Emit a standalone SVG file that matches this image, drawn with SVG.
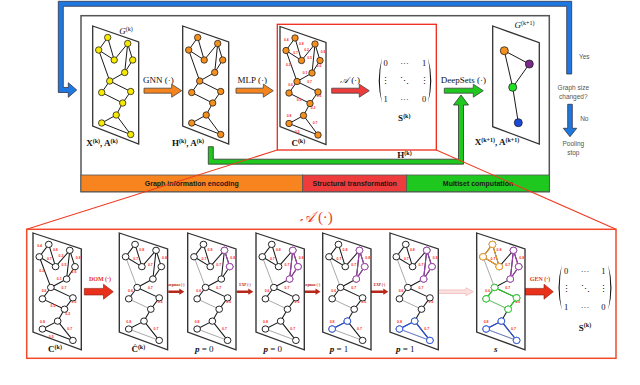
<svg xmlns="http://www.w3.org/2000/svg" xmlns:xlink="http://www.w3.org/1999/xlink" width="640" height="385" viewBox="0 0 640 385">
<style>
.par{fill:#fff;stroke:#333;stroke-width:1.3}
.ed{fill:none;stroke:#1a1a1a;stroke-width:1}
.thin{fill:none;stroke:#555;stroke-width:0.5}
.el{font-family:"Liberation Sans",sans-serif;font-size:3.4px;font-weight:bold;fill:#ff2a2a;text-anchor:middle}
.ml{font-family:"Liberation Serif",serif;font-weight:bold;font-size:9px;fill:#111;text-anchor:middle}
.it{font-family:"Liberation Serif",serif;font-style:italic;font-size:9px;fill:#111;text-anchor:middle}
.sup{font-size:6px}
.fn{font-family:"Liberation Serif",serif;font-size:9px;fill:#111;text-anchor:middle}
.gr{font-family:"Liberation Sans",sans-serif;font-size:6.5px;fill:#555;text-anchor:middle}
.bar{font-family:"Liberation Sans",sans-serif;font-size:7px;font-weight:bold;fill:#1a1a1a;text-anchor:middle}
.mx{font-family:"Liberation Serif",serif;font-size:8.5px;fill:#111;text-anchor:middle}
.rl{font-family:"Liberation Serif",serif;font-weight:bold;font-size:6px;fill:#e8301a;text-anchor:middle}
.sl{font-family:"Liberation Serif",serif;font-weight:bold;font-size:3.6px;fill:#b8201a;text-anchor:middle}
.ar{stroke:#444;stroke-width:0.8}
.ov path{fill:none;stroke-width:1}
.ov circle{fill:#fff;stroke-width:0.9}
</style>
<defs>
<polygon id="par" points="0,0 46,16 46,118 0,100"/>
<path id="eAll" d="M15 11.5L6 24M15 11.5L21.5 34M6 24L21.5 34M35 17.5L21.5 34M35 17.5L32 46.5M35 17.5L40 34M40 34L32 46.5M6 24L17 55M32 46.5L17 55M17 55L9 66.5M17 55L38 65.5M9 66.5L30 77M38 65.5L30 77M30 77L23.5 89M23.5 89L9 97M23.5 89L38 108.5M9 97L38 108.5"/>
<path id="eThick" d="M15 11.5L6 24M15 11.5L21.5 34M6 24L21.5 34M35 17.5L21.5 34M35 17.5L32 46.5M35 17.5L40 34M40 34L32 46.5M32 46.5L17 55M17 55L9 66.5M17 55L38 65.5M38 65.5L30 77M30 77L23.5 89M23.5 89L9 97M23.5 89L38 108.5"/>
<path id="eThin" d="M6 24L17 55M9 66.5L30 77M9 97L38 108.5"/>
<g id="nodes">
<circle cx="15" cy="11.5" r="3.2"/><circle cx="6" cy="24" r="3.2"/><circle cx="35" cy="17.5" r="3.2"/>
<circle cx="21.5" cy="34" r="3.2"/><circle cx="40" cy="34" r="3.2"/><circle cx="32" cy="46.5" r="3.2"/>
<circle cx="17" cy="55" r="3.2"/><circle cx="9" cy="66.5" r="3.2"/><circle cx="38" cy="65.5" r="3.2"/>
<circle cx="30" cy="77" r="3.2"/><circle cx="23.5" cy="89" r="3.2"/><circle cx="9" cy="97" r="3.2"/>
<circle cx="38" cy="108.5" r="3.2"/>
</g>
<g id="lAll" class="el">
<text x="6.3" y="14.6">0.4</text><text x="21.3" y="18.6">0.8</text><text x="15.6" y="27.2">0.7</text>
<text x="26.6" y="24.6">0.2</text><text x="43" y="26.2">0.8</text><text x="29.6" y="32.9">0.5</text>
<text x="39" y="40.6">0.6</text><text x="8.3" y="39.6">0.2</text><text x="25" y="47.2">0.1</text>
<text x="29.6" y="56.2">0.7</text><text x="10.6" y="59.6">0.6</text><text x="19" y="74.6">0.5</text>
<text x="39" y="70.6">0.6</text><text x="33" y="82.9">0.2</text><text x="9" y="90.6">0.8</text>
<text x="35" y="97.9">0.7</text><text x="17.3" y="106.2">0.5</text>
</g>
<g id="lSub" class="el">
<text x="21.3" y="18.6">0.8</text><text x="15.6" y="27.2">0.7</text><text x="29.6" y="32.9">0.7</text>
<text x="43" y="26.2">0.8</text><text x="29.6" y="56.2">0.7</text><text x="10.6" y="59.6">0.6</text>
<text x="39" y="70.6">0.6</text><text x="9" y="90.6">0.8</text><text x="35" y="97.9">0.7</text>
</g>
<g id="pur2" class="ov"><path d="M35 17.5L40 34"/><circle cx="35" cy="17.5" r="3.2"/><circle cx="40" cy="34" r="3.2"/></g>
<g id="pur3" class="ov"><path d="M35 17.5L40 34L32 46.5Z"/><circle cx="35" cy="17.5" r="3.2"/><circle cx="40" cy="34" r="3.2"/><circle cx="32" cy="46.5" r="3.2"/></g>
<g id="blu2" class="ov"><path d="M23.5 89L9 97"/><circle cx="23.5" cy="89" r="3.2"/><circle cx="9" cy="97" r="3.2"/></g>
<g id="blu3" class="ov"><path d="M38 108.5L23.5 89L9 97"/><path d="M9 97L38 108.5" style="stroke-width:0.5"/><circle cx="23.5" cy="89" r="3.2"/><circle cx="9" cy="97" r="3.2"/><circle cx="38" cy="108.5" r="3.2"/></g>
<g id="ora3" class="ov"><path d="M15 11.5L6 24L21.5 34Z"/><circle cx="15" cy="11.5" r="3.2"/><circle cx="6" cy="24" r="3.2"/><circle cx="21.5" cy="34" r="3.2"/></g>
<g id="grn4" class="ov"><path d="M9 66.5L17 55L38 65.5L30 77"/><path d="M9 66.5L30 77" style="stroke-width:0.5"/><circle cx="17" cy="55" r="3.2"/><circle cx="9" cy="66.5" r="3.2"/><circle cx="38" cy="65.5" r="3.2"/><circle cx="30" cy="77" r="3.2"/></g>
</defs>

<!-- outer frame and bar -->
<g id="frame">
<rect x="81" y="15.7" width="468.3" height="176" fill="#fff" stroke="#555" stroke-width="1.5"/>
<rect x="81" y="175" width="221.7" height="16.7" fill="#f7841e" stroke="#555" stroke-width="0.8"/>
<rect x="302.7" y="175" width="104" height="16.7" fill="#ee3b3b" stroke="#555" stroke-width="0.8"/>
<rect x="406.7" y="175" width="142.6" height="16.7" fill="#1ec81e" stroke="#555" stroke-width="0.8"/>
<text class="bar" x="191.8" y="185.8">Graph information encoding</text>
<text class="bar" x="354.7" y="185.8">Structural transformation</text>
<text class="bar" x="478" y="185.8">Multiset computation</text>
</g>

<g id="connectors">
<polygon points="566.7,74 566.7,6.3 63.3,6.3 63.3,87.5 68.3,87.5 68.3,82.7 76.7,90 68.3,97.3 68.3,92.5 58.3,92.5 58.3,1.3 571.7,1.3 571.7,74" fill="#1f78e0" stroke="#334" stroke-width="0.8"/>
<polygon points="567.7,104.3 572.3,104.3 572.3,128.3 576.7,128.3 570,136.7 563.3,128.3 567.7,128.3" fill="#1f78e0" stroke="#334" stroke-width="0.8"/>
<polygon points="208.3,146.7 208.3,164.2 463.5,164.2 463.5,105 468.5,105 461,95 453.5,105 458.5,105 458.5,159.2 213.3,159.2 213.3,146.7" fill="#1ec81e" stroke="#333" stroke-width="0.8"/>
<polygon class="ar" points="144,88.2 171.7,88.2 171.7,84.2 181.7,90.7 171.7,97.2 171.7,93.2 144,93.2" fill="#f5841e"/>
<polygon class="ar" points="236,88.2 263.3,88.2 263.3,84.2 273.3,90.7 263.3,97.2 263.3,93.2 236,93.2" fill="#f5841e"/>
<polygon class="ar" points="331.7,88.2 359.3,88.2 359.3,84.2 369.3,90.7 359.3,97.2 359.3,93.2 331.7,93.2" fill="#ee3b3b"/>
<polygon class="ar" points="444.3,88.2 473.3,88.2 473.3,84.2 483.3,90.7 473.3,97.2 473.3,93.2 444.3,93.2" fill="#1ec81e"/>
<rect x="277.3" y="24.3" width="159" height="125.7" fill="none" stroke="#f02a1a" stroke-width="1.3"/>
<path d="M277.3 150L26.7 229.3M436.3 150L616 229.3" stroke="#f03a20" stroke-width="1.1" fill="none"/>
<rect x="26.7" y="229.3" width="589.3" height="129" fill="none" stroke="#f04a2a" stroke-width="1.5"/>
<polygon points="84.3,288.4 103.5,288.4 103.5,284.2 113.3,291.7 103.5,299.2 103.5,295 84.3,295" fill="#e8301a" stroke="#8a1a10" stroke-width="0.6"/>
<polygon points="525,288.4 544,288.4 544,284.2 553.3,291.7 544,299.2 544,295 525,295" fill="#e8301a" stroke="#8a1a10" stroke-width="0.6"/>
<polygon points="168.3,290.5 179.3,290.5 179.3,288.6 184.3,291.7 179.3,294.8 179.3,292.9 168.3,292.9" fill="#b8281a"/>
<polygon points="236.7,290.5 248.3,290.5 248.3,288.6 253.3,291.7 248.3,294.8 248.3,292.9 236.7,292.9" fill="#b8281a"/>
<polygon points="303.3,290.5 315.5,290.5 315.5,288.6 320.5,291.7 315.5,294.8 315.5,292.9 303.3,292.9" fill="#b8281a"/>
<polygon points="370.7,290.5 383.3,290.5 383.3,288.6 388.3,291.7 383.3,294.8 383.3,292.9 370.7,292.9" fill="#b8281a"/>
<polygon points="436.7,289.9 466,289.9 466,287.7 473.3,291.7 466,295.7 466,293.5 436.7,293.5" fill="#fbe0e0" stroke="#f2a8a8" stroke-width="0.6"/>
</g>

<!-- top labels -->
<g id="toplabels">
<text class="fn" x="158.3" y="83">GNN (·)</text>
<text class="fn" x="252.3" y="83">MLP (·)</text>
<text class="fn" x="350" y="83" font-style="italic">𝒜<tspan font-style="normal"> (·)</tspan></text>
<text class="fn" x="463.3" y="83">DeepSets (·)</text>
<text class="gr" x="584.3" y="58.5">Yes</text>
<text class="gr" x="573.3" y="89.5">Graph size</text>
<text class="gr" x="573.3" y="99">changed?</text>
<text class="gr" x="584.3" y="120.5">No</text>
<text class="gr" x="573.3" y="145.5">Pooling</text>
<text class="gr" x="573.3" y="154.5">stop</text>
<text class="it" x="126" y="34">G<tspan class="sup" dy="-3.5" font-style="normal">(k)</tspan></text>
<text class="it" x="524.5" y="28">G<tspan class="sup" dy="-3.5" font-style="normal">(k+1)</tspan></text>
<text class="ml" x="102" y="146">X<tspan class="sup" dy="-3.5">(k)</tspan><tspan dy="3.5">, A</tspan><tspan class="sup" dy="-3.5">(k)</tspan></text>
<text class="ml" x="188" y="146">H<tspan class="sup" dy="-3.5">(k)</tspan><tspan dy="3.5">, A</tspan><tspan class="sup" dy="-3.5">(k)</tspan></text>
<text class="ml" x="298.3" y="146">C<tspan class="sup" dy="-3.5">(k)</tspan></text>
<text class="ml" x="497" y="145">X<tspan class="sup" dy="-3.5">(k+1)</tspan><tspan dy="3.5">, A</tspan><tspan class="sup" dy="-3.5">(k+1)</tspan></text>
<text class="ml" x="404.3" y="121">S<tspan class="sup" dy="-3.5">(k)</tspan></text>
<text class="ml" x="404.5" y="158">H<tspan class="sup" dy="-3.5">(k)</tspan></text>
</g>

<g id="matrixTop">
<path d="M382 58 Q375.5 80.5 382 103 Q377.8 80.5 382 58Z" fill="#111"/>
<path d="M428 58 Q434.5 80.5 428 103 Q432.2 80.5 428 58Z" fill="#111"/>
<text class="mx" x="385.5" y="66">0</text><text class="mx" x="404.5" y="66">···</text><text class="mx" x="424" y="66">1</text>
<text class="mx" x="385.5" y="84">⋮</text><text class="mx" x="404.5" y="84">⋱</text><text class="mx" x="424" y="84">⋮</text>
<text class="mx" x="385.5" y="101.5">1</text><text class="mx" x="404.5" y="101.5">···</text><text class="mx" x="424" y="101.5">0</text>
</g>

<g id="panelX" transform="translate(92.7,26)">
<use href="#par" class="par"/><use href="#eAll" class="ed"/>
<use href="#nodes" fill="#f7ea00" stroke="#222" stroke-width="0.8"/>
</g>
<g id="panelH" transform="translate(182.7,26)">
<use href="#par" class="par"/><use href="#eAll" class="ed"/>
<use href="#nodes" fill="#f5901e" stroke="#222" stroke-width="0.8"/>
</g>
<g id="panelC" transform="translate(280,26.5)">
<use href="#par" class="par"/><use href="#eAll" class="ed"/><use href="#lAll"/>
<use href="#nodes" fill="#f5901e" stroke="#222" stroke-width="0.8"/>
</g>
<g id="panelG1">
<polygon points="492.7,26 539.3,42.7 539.3,144 492.7,126.7" class="par"/>
<path d="M504.3 50.7L529.3 64L512.7 87.3ZM512.7 87.3L518.3 122.7" class="ed"/>
<circle cx="504.3" cy="50.7" r="4" fill="#f5901e" stroke="#222" stroke-width="0.8"/>
<circle cx="529.3" cy="64" r="4" fill="#7a2a8a" stroke="#222" stroke-width="0.8"/>
<circle cx="512.7" cy="87.3" r="4" fill="#22e022" stroke="#222" stroke-width="0.8"/>
<circle cx="518.3" cy="122.7" r="4" fill="#1a4ad8" stroke="#222" stroke-width="0.8"/>
</g>

<!-- bottom -->
<text x="316.5" y="222" font-family="Liberation Serif, serif" font-size="15" fill="#f03a20" text-anchor="middle"><tspan font-style="italic">𝒜</tspan> (·)</text>
<g id="bottomLabels">
<text class="rl" x="100" y="280.5">DOM (·)</text>
<text class="rl" x="540" y="280.5">GEN (·)</text>
<text class="sl" x="176.3" y="285.6">argmax (·)</text>
<text class="sl" x="245" y="285.6">EXP (·)</text>
<text class="sl" x="312" y="285.6">argmax (·)</text>
<text class="sl" x="379.5" y="285.6">EXP (·)</text>
<text class="ml" x="55" y="352">C<tspan class="sup" dy="-3.5">(k)</tspan></text>
<text class="ml" x="138.3" y="352">Ĉ<tspan class="sup" dy="-3.5">(k)</tspan></text>
<text class="it" x="204.3" y="352" font-weight="bold">p<tspan font-style="normal" font-weight="normal"> = 0</tspan></text>
<text class="it" x="272.7" y="352" font-weight="bold">p<tspan font-style="normal" font-weight="normal"> = 0</tspan></text>
<text class="it" x="339" y="352" font-weight="bold">p<tspan font-style="normal" font-weight="normal"> = 1</tspan></text>
<text class="it" x="405.3" y="352" font-weight="bold">p<tspan font-style="normal" font-weight="normal"> = 1</tspan></text>
<text class="it" x="495.7" y="352" font-weight="bold">s</text>
<text class="ml" x="585" y="330.5">S<tspan class="sup" dy="-3.5">(k)</tspan></text>
</g>
<g id="matrixBottom">
<path d="M561.8 265 Q555.3 287.5 561.8 310 Q557.6 287.5 561.8 265Z" fill="#111"/>
<path d="M608.2 265 Q614.7 287.5 608.2 310 Q612.4 287.5 608.2 265Z" fill="#111"/>
<text class="mx" x="566" y="274">0</text><text class="mx" x="585" y="274">···</text><text class="mx" x="603.3" y="274">1</text>
<text class="mx" x="566" y="292">⋮</text><text class="mx" x="585" y="292">⋱</text><text class="mx" x="603.3" y="292">⋮</text>
<text class="mx" x="566" y="309.5">1</text><text class="mx" x="585" y="309.5">···</text><text class="mx" x="603.3" y="309.5">0</text>
</g>

<g id="b1" transform="translate(33,233) scale(1.05,0.99)">
<use href="#par" class="par"/><use href="#eAll" class="ed"/><use href="#lAll"/>
<use href="#nodes" fill="#fff" stroke="#111" stroke-width="0.9"/>
</g>
<g id="b2" transform="translate(119.3,233) scale(1.05,0.99)">
<use href="#par" class="par"/><use href="#eThick" class="ed"/><use href="#eThin" class="thin"/><use href="#lSub"/>
<use href="#nodes" fill="#fff" stroke="#111" stroke-width="0.9"/>
</g>
<g id="b3" transform="translate(187.7,233) scale(1.05,0.99)">
<use href="#par" class="par"/><use href="#eThick" class="ed"/><use href="#eThin" class="thin"/><use href="#lSub"/>
<use href="#nodes" fill="#fff" stroke="#111" stroke-width="0.9"/>
<use href="#pur2" stroke="#a040b0"/>
</g>
<g id="b4" transform="translate(256,233) scale(1.05,0.99)">
<use href="#par" class="par"/><use href="#eThick" class="ed"/><use href="#eThin" class="thin"/><use href="#lSub"/>
<use href="#nodes" fill="#fff" stroke="#111" stroke-width="0.9"/>
<use href="#pur3" stroke="#a040b0"/>
</g>
<g id="b5" transform="translate(322.7,233) scale(1.05,0.99)">
<use href="#par" class="par"/><use href="#eThick" class="ed"/><use href="#eThin" class="thin"/><use href="#lSub"/>
<use href="#nodes" fill="#fff" stroke="#111" stroke-width="0.9"/>
<use href="#pur3" stroke="#a040b0"/><use href="#blu2" stroke="#2a55e8"/>
</g>
<g id="b6" transform="translate(390,233) scale(1.05,0.99)">
<use href="#par" class="par"/><use href="#eThick" class="ed"/><use href="#eThin" class="thin"/><use href="#lSub"/>
<use href="#nodes" fill="#fff" stroke="#111" stroke-width="0.9"/>
<use href="#pur3" stroke="#a040b0"/><use href="#blu3" stroke="#2a55e8"/>
</g>
<g id="b7" transform="translate(476.7,233) scale(1.05,0.99)">
<use href="#par" class="par"/><use href="#eThick" class="ed"/><use href="#eThin" class="thin"/><use href="#lSub"/>
<use href="#nodes" fill="#fff" stroke="#111" stroke-width="0.9"/>
<use href="#ora3" stroke="#f5a020"/><use href="#pur3" stroke="#a040b0"/><use href="#grn4" stroke="#22dd22"/><use href="#blu3" stroke="#2a55e8"/>
</g>
</svg>
